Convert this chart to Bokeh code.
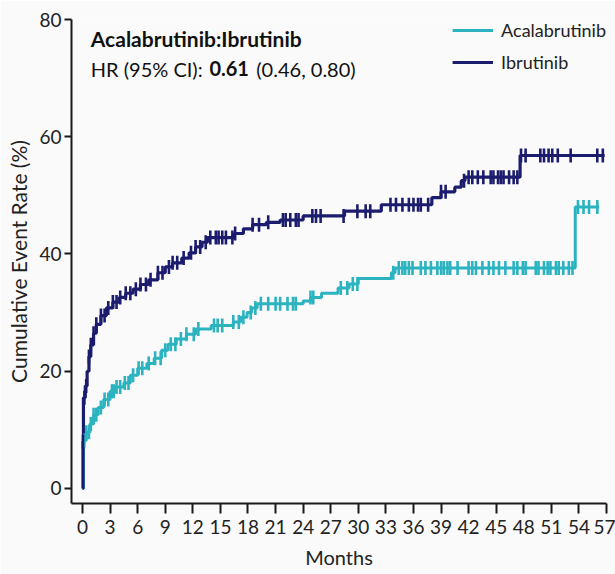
import numpy as np
from bokeh.plotting import figure
from bokeh.models import Range1d, Label, Legend, LegendItem, FixedTicker
from bokeh.embed import file_html
from bokeh.resources import INLINE

# Cumulative event rate (%) step curves: time (months) of each step and the level after it
acala_t = [0, 0.1, 0.4, 0.8, 1.2, 1.7, 2.3, 3.0, 3.6, 4.5, 5.2, 6.0, 7.0, 7.8, 8.6, 9.3,
           10.2, 11.3, 12.3, 14.0, 16.4, 17.2, 17.9, 18.4, 19.0, 24.0, 24.8, 26.0, 27.8,
           29.0, 30.0, 33.6, 34.0, 53.6, 56.2]
acala_v = [0, 8.2, 9.6, 11.0, 12.6, 13.8, 15.2, 16.6, 17.3, 18.0, 19.3, 20.5, 21.3, 22.2,
           23.6, 24.6, 25.5, 26.3, 27.2, 27.8, 28.4, 29.2, 30.0, 30.8, 31.5, 32.0, 32.6,
           33.3, 34.2, 34.9, 35.8, 36.8, 37.6, 48.0, 48.0]

ibru_t = [0, 0.05, 0.1, 0.3, 0.5, 0.7, 0.9, 1.2, 1.5, 2.0, 2.6, 3.3, 4.0, 4.7, 5.5, 6.3,
          7.2, 8.2, 9.0, 9.8, 10.8, 11.6, 12.3, 13.0, 13.6, 16.5, 17.5, 18.5, 20.0, 21.5,
          24.0, 28.5, 32.5, 38.0, 39.0, 40.5, 41.2, 41.6, 47.6, 56.8]
ibru_v = [0, 8.0, 15.5, 17.5, 20.0, 22.5, 24.5, 26.5, 28.0, 29.5, 30.8, 31.8, 32.6, 33.3,
          34.0, 34.8, 35.6, 36.8, 37.8, 38.5, 39.3, 40.2, 41.2, 42.0, 42.8, 43.5, 44.3,
          45.0, 45.4, 45.8, 46.5, 47.3, 48.4, 49.6, 50.6, 51.4, 52.5, 53.1, 56.8, 56.8]

# Censoring times (months)
acala_cens = [0.2, 0.4, 0.7, 0.9, 1.2, 1.5, 2.0, 2.4, 2.8, 3.2, 3.4, 3.7, 4.1, 4.6, 5.0,
              5.5, 6.1, 6.5, 7.2, 7.9, 8.5, 9.0, 9.6, 10.1, 10.7, 11.3, 12.1, 12.6, 14.3,
              14.7, 15.2, 16.4, 17.0, 17.5, 18.3, 18.8, 19.4, 20.2, 21.0, 21.5, 22.3, 22.9,
              23.2, 24.8, 25.1, 28.1, 28.8, 29.4, 29.9, 33.8, 34.4, 34.8, 35.1, 35.5, 35.9,
              36.8, 37.3, 37.9, 38.6, 39.0, 39.3, 39.7, 40.0, 40.8, 42.0, 42.4, 42.8, 43.5,
              44.2, 44.7, 45.3, 46.0, 46.9, 47.3, 47.9, 48.2, 49.3, 49.6, 50.2, 50.6, 50.9,
              51.5, 51.8, 52.3, 52.9, 53.3, 53.9, 54.5, 55.1, 56.0]
ibru_cens = [0.05, 0.2, 0.4, 0.7, 0.9, 1.2, 1.5, 2.0, 2.4, 2.8, 3.3, 3.7, 4.1, 4.7, 5.2,
             5.8, 6.3, 6.9, 7.4, 8.2, 8.7, 9.4, 9.8, 10.3, 11.0, 11.8, 12.3, 12.8, 13.4,
             13.9, 14.5, 14.8, 15.2, 15.6, 16.3, 16.6, 18.5, 19.2, 20.2, 21.8, 22.1, 22.6,
             23.2, 23.5, 25.0, 25.4, 25.9, 28.4, 29.9, 30.8, 31.3, 33.5, 34.1, 34.8, 35.5,
             36.0, 36.5, 36.8, 37.6, 39.0, 39.5, 41.5, 42.0, 42.4, 43.0, 43.6, 44.4, 44.7,
             45.2, 45.5, 45.8, 46.4, 46.9, 47.3, 47.7, 48.2, 49.8, 50.2, 50.7, 51.1, 51.7,
             53.1, 56.0, 56.6]

x_ticks = list(range(0, 58, 3))
y_ticks = [0, 20, 40, 60, 80]

TEAL = "#2bb3c0"
NAVY = "#1c1c6e"
BG = "#fafafa"


def level_at(times, values, t):
    idx = np.searchsorted(np.asarray(times), np.asarray(t), side="right") - 1
    return np.asarray(values)[np.clip(idx, 0, len(values) - 1)]


p = figure(width=615, height=574, output_backend="svg", toolbar_location=None,
           x_range=Range1d(-1.2, 57), y_range=Range1d(-2.56, 80),
           min_border_left=71, min_border_right=9, min_border_top=19, min_border_bottom=71)
p.background_fill_color = BG
p.border_fill_color = BG
p.outline_line_color = None
p.grid.visible = False

tick_font = "Liberation Sans Narrow, Arial Narrow, Lato"
for ax in (p.xaxis[0], p.yaxis[0]):
    ax.axis_line_width = 2
    ax.axis_line_color = "#1a1a1a"
    ax.major_tick_line_width = 2
    ax.major_tick_line_color = "#1a1a1a"
    ax.minor_tick_line_color = None
    ax.major_tick_in = 0
    ax.major_label_text_font = tick_font
    ax.major_label_text_font_size = "19px"
    ax.major_label_text_color = "#222222"
    ax.axis_label_text_font = "Lato"
    ax.axis_label_text_font_style = "normal"
    ax.axis_label_text_color = "#222222"

p.xaxis.ticker = FixedTicker(ticks=x_ticks)
p.yaxis.ticker = FixedTicker(ticks=y_ticks)
p.xaxis.major_tick_out = 10
p.yaxis.major_tick_out = 7
p.xaxis.major_label_standoff = 6
p.yaxis.major_label_standoff = 3
p.xaxis.axis_label = "Months"
p.yaxis.axis_label = "Cumulative Event Rate (%)"
p.xaxis.axis_label_text_font_size = "20px"
p.yaxis.axis_label_text_font_size = "21px"
p.xaxis.axis_label_standoff = 8
p.yaxis.axis_label_standoff = 5

# Step curves
r_acala = p.step(acala_t, acala_v, mode="after", line_color=TEAL, line_width=3)
r_ibru = p.step(ibru_t, ibru_v, mode="after", line_color=NAVY, line_width=3.2)

# Censor marks as short vertical ticks on each curve
p.scatter(acala_cens, level_at(acala_t, acala_v, acala_cens), marker="dash",
          angle=np.pi / 2, size=14, line_color=TEAL, line_width=2.6)
p.scatter(ibru_cens, level_at(ibru_t, ibru_v, ibru_cens), marker="dash",
          angle=np.pi / 2, size=14, line_color=NAVY, line_width=2.6)

# Hazard ratio annotation
lab_kw = dict(text_font="Lato", text_color="#111111", text_baseline="middle")
p.add_layout(Label(x=0.9, y=76.7, text="Acalabrutinib:Ibrutinib", text_font_size="21px",
                   text_font_style="bold", **lab_kw))
p.add_layout(Label(x=0.9, y=71.6, text="HR (95% CI):", text_font_size="20px", **lab_kw))
p.add_layout(Label(x=13.8, y=71.6, text="0.61", text_font_size="20px",
                   text_font_style="bold", **lab_kw))
p.add_layout(Label(x=18.9, y=71.6, text="(0.46, 0.80)", text_font_size="20px", **lab_kw))

legend = Legend(items=[LegendItem(label="Acalabrutinib", renderers=[r_acala]),
                       LegendItem(label="Ibrutinib", renderers=[r_ibru])],
                location="top_right", margin=0, padding=0, spacing=10,
                glyph_width=41, glyph_height=22, label_height=22, label_standoff=8,
                label_text_font="Lato", label_text_font_size="18px",
                label_text_color="#222222",
                background_fill_alpha=0, border_line_alpha=0)
p.add_layout(legend)

open("out.html", "w").write(file_html(p, INLINE))
